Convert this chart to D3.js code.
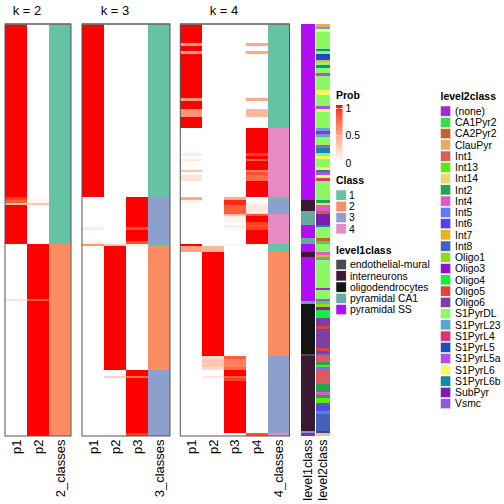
<!DOCTYPE html>
<html><head><meta charset="utf-8">
<script src="https://cdn.jsdelivr.net/npm/d3@7"></script>
<style>
body{margin:0;background:#fff}
svg{display:block}
text{font-family:"Liberation Sans",Arial,Helvetica,sans-serif;fill:#000}
</style>
</head><body>
<svg id="chart" width="504" height="504"></svg>
<script>
// ---------------- DATA ----------------
const N = 150; // number of samples (rows)

const classLabels = ["1","2","3","4"];
const classColors = ["#66C2A5","#FC8D62","#8DA0CB","#E78AC3"];

// probability runs: [startRow, endRow, probability]
const k2_p1 = [[0,63,1],[63,64,.9],[64,65,.8],[65,66,.35],[66,80,1],[100,101,.15]];
const k2_p2 = [[63,64,.04],[64,65,.05],[65,66,.3],[80,100,1],[100,101,.8],[101,150,1]];
const k2_class = [[0,80,1],[80,150,2]];

const k3_p1 = [[0,63,1],[74,75,.1],[79,80,.08],[80,81,.55]];
const k3_p2 = [[80,81,.3],[81,126,1],[128,129,.25],[149,150,.05]];
const k3_p3 = [[63,74,1],[74,75,.85],[75,79,1],[79,80,.85],[80,81,.1],[126,128,1],[128,129,.75],[129,149,1],[149,150,.9]];
const k3_class = [[0,63,1],[63,80,3],[80,81,1],[81,126,2],[126,150,3]];

const k4_p1 = [[0,7,1],[7,8,.5],[8,10,1],[10,11,.5],[11,27,1],[27,28,.5],[28,31,1],[31,34,.55],[34,38,1],
  [47,48,.1],[49,50,.1],[53,54,.3],[54,55,.03],[55,57,.15],[63,64,.45],[64,65,.08],[80,81,1],[81,83,.5]];
const k4_p2 = [[81,83,.4],[83,121,1],[121,122,.2],[122,125,.3],[125,126,.2],[128,129,.12],[149,150,.04]];
const k4_p3 = [[63,64,.45],[64,66,.95],[66,69,.8],[69,70,.35],[70,72,.07],[73,74,.1],[74,75,.04],[80,81,.05],
  [121,122,.8],[122,125,.65],[125,126,.75],[126,128,1],[128,129,.8],[129,130,.9],[130,149,1]];
const k4_p4 = [[7,8,.45],[10,11,.45],[27,28,.45],[31,34,.38],[38,47,1],[47,48,.9],[48,49,1],[49,50,.8],[50,53,1],
  [53,54,.65],[54,55,.85],[55,57,.75],[57,63,1],[65,66,.08],[66,69,.12],[69,70,.85],[70,72,1],[72,73,.9],
  [73,74,.85],[74,75,.9],[75,80,1],[129,130,.03],[149,150,.85]];
const k4_class = [[0,38,1],[38,63,4],[63,64,1],[64,69,3],[69,80,4],[80,83,1],[83,121,2],[121,149,3],[149,150,4]];

const level1Names = ["endothelial-mural","interneurons","oligodendrocytes","pyramidal CA1","pyramidal SS"];
const level1Colors = ["#4B4650","#3A1A33","#141414","#68A8A6","#B20EF5"];
const level1Runs = [[0,64,"pyramidal SS"],[64,68,"interneurons"],[68,73,"pyramidal CA1"],[73,78,"pyramidal SS"],
  [78,80,"pyramidal CA1"],[80,83,"pyramidal SS"],[83,85,"interneurons"],[85,101,"pyramidal SS"],
  [101,102,"pyramidal CA1"],[102,120,"oligodendrocytes"],[120,121,"endothelial-mural"],[121,148,"interneurons"],
  [148,149,"pyramidal CA1"],[149,150,"pyramidal SS"]];

const level2Names = ["(none)","CA1Pyr2","CA2Pyr2","ClauPyr","Int1","Int13","Int14","Int2","Int4","Int5","Int6",
  "Int7","Int8","Oligo1","Oligo3","Oligo4","Oligo5","Oligo6","S1PyrDL","S1PyrL23","S1PyrL4","S1PyrL5",
  "S1PyrL5a","S1PyrL6","S1PyrL6b","SubPyr","Vsmc"];
const level2Colors = ["#A02AD0","#3BDC4B","#C5622A","#E2AA62","#DC5A62","#5BEA0E","#EED76D","#22A552","#DD5CC8",
  "#5B7CF8","#5840EE","#E1B514","#4163BE","#8CDC1C","#9412CA","#14EE3C","#D8463C","#7D3FA5","#8CF864",
  "#5CA5D8","#D8357A","#1A4CC5","#B14EE6","#F8F862","#0E8AA6","#7D1CB2","#8A5CE0"];
const level2Runs = [[0,1,"ClauPyr"],[1,2,"S1PyrL23"],[2,3,"S1PyrL6"],[3,9,"S1PyrDL"],[9,10,"S1PyrL6b"],
  [10,11,"S1PyrDL"],[11,13,"S1PyrL5"],[13,14,"ClauPyr"],[14,15,"S1PyrDL"],[15,16,"S1PyrL6b"],[16,18,"S1PyrDL"],
  [18,19,"S1PyrL5a"],[19,24,"S1PyrDL"],[24,26,"S1PyrL6"],[26,30,"S1PyrDL"],[30,31,"S1PyrL5a"],[31,32,"S1PyrL6"],
  [32,38,"S1PyrDL"],[38,39,"S1PyrL23"],[39,40,"(none)"],[40,41,"S1PyrL23"],[41,44,"S1PyrDL"],[44,45,"S1PyrL5a"],
  [45,47,"S1PyrL6b"],[47,48,"S1PyrDL"],[48,49,"S1PyrL6"],[49,52,"S1PyrDL"],[52,53,"S1PyrL6"],[53,54,"S1PyrL6b"],
  [54,55,"S1PyrL5a"],[55,56,"S1PyrL6"],[56,57,"S1PyrL4"],[57,64,"S1PyrDL"],[64,65,"Int2"],[65,66,"Int14"],
  [66,68,"Int4"],[68,69,"CA2Pyr2"],[69,73,"SubPyr"],[73,74,"S1PyrL6b"],[74,78,"S1PyrDL"],[78,79,"CA2Pyr2"],
  [79,80,"CA1Pyr2"],[80,83,"S1PyrDL"],[83,84,"Int4"],[84,85,"Int7"],[85,86,"S1PyrL23"],[86,96,"S1PyrDL"],
  [96,97,"(none)"],[97,100,"S1PyrDL"],[100,101,"S1PyrL5a"],[101,102,"CA1Pyr2"],[102,103,"Oligo1"],
  [103,104,"Oligo3"],[104,107,"Oligo4"],[107,110,"Oligo6"],[110,111,"Oligo5"],[111,118,"Oligo6"],
  [118,119,"Oligo5"],[119,120,"Oligo6"],[120,121,"Vsmc"],[121,123,"Int1"],[123,124,"Int2"],[124,125,"Int13"],
  [125,126,"Int5"],[126,131,"Int1"],[131,134,"Int2"],[134,135,"Int4"],[135,136,"Int2"],[136,138,"Int13"],
  [138,139,"Int8"],[139,140,"Int6"],[140,141,"Int8"],[141,142,"Int5"],[142,148,"Int8"],[148,149,"SubPyr"],
  [149,150,"S1PyrDL"]];

const probLegendTicks = [0, 0.5, 1];

// ---------------- DRAW ----------------
const svg = d3.select("#chart");
const topY = 24, bottomY = 436;
const y = d3.scaleLinear().domain([0, N]).range([topY, bottomY]);
const probColor = d3.scaleLinear().domain([0,1]).range(["#ffffff","#ff0000"]).interpolate(d3.interpolateLab);
const classColor = d3.scaleOrdinal().domain([1,2,3,4]).range(classColors);
const l1Color = d3.scaleOrdinal().domain(level1Names).range(level1Colors);
const l2Color = d3.scaleOrdinal().domain(level2Names).range(level2Colors);

const panels = [
  {title:"k = 2", x0:5, x1:71, cols:[{name:"p1",runs:k2_p1},{name:"p2",runs:k2_p2},{name:"2_classes",runs:k2_class,cls:true}]},
  {title:"k = 3", x0:82, x1:170, cols:[{name:"p1",runs:k3_p1},{name:"p2",runs:k3_p2},{name:"p3",runs:k3_p3},{name:"3_classes",runs:k3_class,cls:true}]},
  {title:"k = 4", x0:180.3, x1:289.5, cols:[{name:"p1",runs:k4_p1},{name:"p2",runs:k4_p2},{name:"p3",runs:k4_p3},{name:"p4",runs:k4_p4},{name:"4_classes",runs:k4_class,cls:true}]}
];

panels.forEach(p => {
  const x = d3.scaleBand().domain(p.cols.map(c => c.name)).range([p.x0, p.x1]);
  const g = svg.append("g");
  p.cols.forEach(c => {
    const cg = g.append("g").attr("shape-rendering","crispEdges");
    cg.append("rect").attr("x", x(c.name)).attr("y", y(0)).attr("width", x.bandwidth()).attr("height", y(N)-y(0)).attr("fill","#ffffff");
    cg.selectAll("rect.cell").data(c.runs).join("rect").attr("class","cell")
      .attr("x", x(c.name)).attr("width", x.bandwidth())
      .attr("y", d => y(d[0])).attr("height", d => y(d[1]) - y(d[0]))
      .attr("fill", d => c.cls ? classColor(d[2]) : probColor(d[2]));
    g.append("text")
      .attr("transform", `translate(${x(c.name) + x.bandwidth()/2},${bottomY + 3.5}) rotate(-90)`)
      .attr("text-anchor","end").attr("dy","0.35em")
      .style("font-size","13px").text(c.name);
  });
  g.append("line").attr("x1", p.x0).attr("x2", p.x1).attr("y1", topY).attr("y2", topY)
    .attr("stroke","#999").attr("stroke-width",1.6);
  g.append("rect").attr("x", p.x0).attr("y", topY).attr("width", p.x1 - p.x0).attr("height", bottomY - topY)
    .attr("fill","none").attr("stroke","#555").attr("stroke-width",1);
  const pcols = p.cols.filter(c => !c.cls);
  const cx = (x(pcols[0].name) + x(pcols[pcols.length-1].name) + x.bandwidth())/2;
  g.append("text").attr("x", cx).attr("y", 15).attr("text-anchor","middle").style("font-size","13px").text(p.title);
});

// annotation columns
const annX = d3.scaleBand().domain(["level1class","level2class"]).range([301, 330]).paddingInner(0.035);
const ann = [{name:"level1class", runs:level1Runs, color:l1Color},{name:"level2class", runs:level2Runs, color:l2Color}];
ann.forEach(a => {
  svg.append("g").attr("shape-rendering","crispEdges")
    .selectAll("rect").data(a.runs).join("rect")
    .attr("x", annX(a.name)).attr("width", annX.bandwidth())
    .attr("y", d => y(d[0])).attr("height", d => y(d[1]) - y(d[0]))
    .attr("fill", d => a.color(d[2]));
  svg.append("text")
    .attr("transform", `translate(${annX(a.name) + annX.bandwidth()/2},${bottomY + 3.5}) rotate(-90)`)
    .attr("text-anchor","end").attr("dy","0.35em").style("font-size","12.5px").text(a.name);
});

// ---- Legends ----
const L = svg.append("g");
const LF = "10.4px", TF = "10.5px";
// Prob
L.append("text").attr("x",336).attr("y",99).style("font-size",TF).style("font-weight","bold").text("Prob");
const ly = d3.scaleLinear().domain([0,1]).range([162,105]);
const defs = svg.append("defs");
const grad = defs.append("linearGradient").attr("id","pg").attr("x1",0).attr("y1",1).attr("x2",0).attr("y2",0);
d3.range(0, 1.0001, 0.1).forEach(t => grad.append("stop").attr("offset", t).attr("stop-color", probColor(t)));
L.append("rect").attr("x",336).attr("y",ly(1)).attr("width",6.5).attr("height",ly(0)-ly(1)).attr("fill","url(#pg)");
const labY = d3.scaleLinear().domain([0,1]).range([163,108.5]);
probLegendTicks.forEach(t => {
  if (t > 0) {
    L.append("line").attr("x1",336).attr("x2",338.5).attr("y1",labY(t)).attr("y2",labY(t)).attr("stroke","#fff").attr("stroke-width",0.8);
    L.append("line").attr("x1",340).attr("x2",342.5).attr("y1",labY(t)).attr("y2",labY(t)).attr("stroke","#fff").attr("stroke-width",0.8);
  }
  L.append("text").attr("x",345.5).attr("y",labY(t)).attr("dy","0.35em").style("font-size",LF).text(String(t));
});

function discreteLegend(title, tx, ty, sx, names, colorFn, lx) {
  L.append("text").attr("x",tx).attr("y",ty).style("font-size",TF).style("font-weight","bold").text(title);
  const sy = d3.scaleBand().domain(names).range([ty + 6, ty + 6 + names.length * 11.25]);
  names.forEach(n => {
    L.append("rect").attr("x",sx).attr("y",sy(n)).attr("width",10.2).attr("height",10.2)
      .attr("fill",colorFn(n)).attr("stroke","#fff").attr("stroke-width",0.5);
    L.append("text").attr("x",lx).attr("y",sy(n)+5.2).attr("dy","0.35em").style("font-size",LF).text(n);
  });
}
discreteLegend("Class", 336, 184, 336, classLabels, n => classColor(+n), 349);
discreteLegend("level1class", 336, 253.5, 336, level1Names, l1Color, 350);
discreteLegend("level2class", 440.5, 100, 440.5, level2Names, l2Color, 455);
</script>
</body></html>
